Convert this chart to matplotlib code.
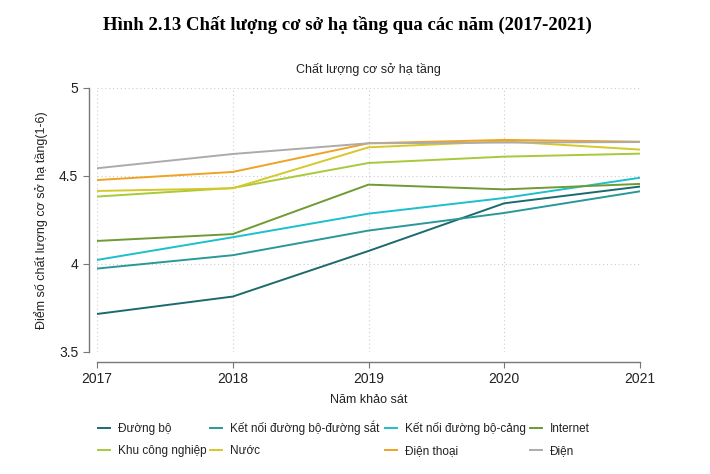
import matplotlib.pyplot as plt
from matplotlib.lines import Line2D

years = [2017, 2018, 2019, 2020, 2021]

duong_bo = [3.716, 3.815, 4.074, 4.345, 4.44]
kn_duong_sat = [3.974, 4.05, 4.19, 4.29, 4.413]
kn_cang = [4.023, 4.152, 4.286, 4.375, 4.49]
internet = [4.131, 4.17, 4.451, 4.424, 4.455]
khu_cn = [4.383, 4.432, 4.574, 4.61, 4.627]
nuoc = [4.415, 4.43, 4.663, 4.697, 4.65]
dien_thoai = [4.477, 4.523, 4.686, 4.705, 4.695]
dien = [4.544, 4.625, 4.686, 4.69, 4.693]

names = ['Đường bộ', 'Kết nối đường bộ-đường sắt', 'Kết nối đường bộ-cảng', 'Internet',
         'Khu công nghiệp', 'Nước', 'Điện thoại', 'Điện']
series = [duong_bo, kn_duong_sat, kn_cang, internet, khu_cn, nuoc, dien_thoai, dien]
colors = ['#1b6b6e', '#2a9898', '#1cbfcc', '#6f9a34', '#a9c93a', '#d6c829', '#f0a224', '#ababab']

plt.rcParams['font.family'] = ['Liberation Sans', 'DejaVu Sans']

fig = plt.figure(figsize=(7.1, 4.74), dpi=100)
ax = fig.add_axes([97/710, 122/474, 543/710, 264/474])

for name, vals, c in zip(names, series, colors):
    ax.plot(years, vals, color=c, lw=1.4, label=name)

ax.set_xlim(2017, 2021)
ax.set_ylim(3.5, 5)
ax.set_xticks(years)
ax.set_yticks([3.5, 4, 4.5, 5])
ax.set_yticklabels(['3.5', '4', '4.5', '5'])
ax.grid(True, color='#cccccc', linestyle=(0, (1, 2.5)), lw=0.8)

for s in ['top', 'right']:
    ax.spines[s].set_visible(False)
ax.spines['left'].set_position(('outward', 6))
ax.spines['bottom'].set_position(('outward', 7))
for s in ['left', 'bottom']:
    ax.spines[s].set_color('#777777')
    ax.spines[s].set_linewidth(1.0)
ax.tick_params(colors='#777777', labelcolor='#222222', labelsize=10, length=4)

ax.set_xlabel('Năm khảo sát', fontsize=9, color='#222222', labelpad=6)
ax.set_ylabel('Điểm số chất lượng cơ sở hạ tầng(1-6)', fontsize=9, color='#222222', labelpad=8)
ax.set_title('Chất lượng cơ sở hạ tầng', fontsize=9, color='#222222', pad=11)

fig.text(0.489, 0.947, 'Hình 2.13 Chất lượng cơ sở hạ tầng qua các năm (2017-2021)',
         ha='center', va='center', fontsize=13.5, fontweight='bold',
         family=['Liberation Serif', 'DejaVu Serif'])

# legend drawn by hand: 4 columns x 2 rows, baselines kept level
col_x = [98, 210, 385, 530]
row_y = [432, 454]
W, H = 710, 474
for i, (name, c) in enumerate(zip(names, colors)):
    x0 = col_x[i % 4]
    yb = row_y[i // 4]
    fig.add_artist(Line2D([x0 / W, (x0 + 12) / W], [1 - (yb - 4.5) / H] * 2,
                          color=c, lw=1.4, transform=fig.transFigure))
    fig.text((x0 + 20) / W, 1 - yb / H, name, fontsize=8.5, color='#222222',
             va='baseline', ha='left')

fig.savefig('out.png', dpi=100)
